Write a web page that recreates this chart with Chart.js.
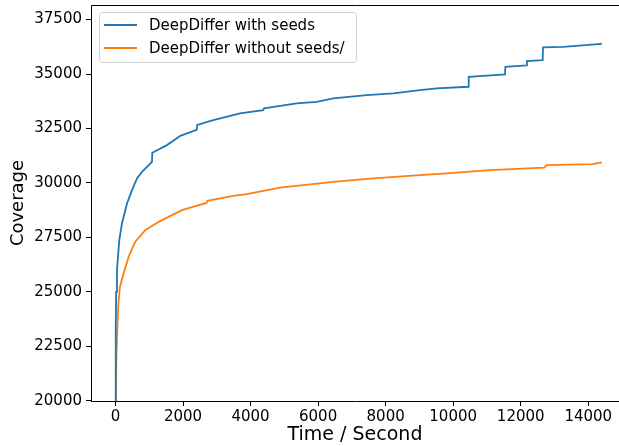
<!DOCTYPE html>
<html lang="en">
<head>
    <meta charset="UTF-8">
    <title>Coverage over time</title>
    <script src="https://cdn.jsdelivr.net/npm/chart.js@4.4.1/dist/chart.umd.min.js"></script>
    <style>
        html, body { margin: 0; padding: 0; background: #fff; overflow: hidden; }
        #chart { display: block; }
    </style>
</head>
<body>
<canvas id="chart" width="619" height="446"></canvas>
<script>
    // series labels
    var seriesNames = ["DeepDiffer with seeds", "DeepDiffer without seeds/"];

    // with seeds: time (s) / coverage
    var withSeedsTime = [0, 8, 20, 44, 113, 192, 341, 489, 637, 785, 1081, 1090, 1525, 1919, 2405, 2420,
        2896, 3687, 4377, 4400, 5366, 5958, 6450, 7438, 8226, 9017, 9511, 10448, 10460, 11534, 11545,
        12176, 12185, 12650, 12660, 13261, 14297, 14400];
    var withSeedsCov = [20000, 23500, 25000, 26000, 27370, 28140, 29058, 29669, 30207, 30510, 30970, 31383, 31736, 32163, 32440, 32660,
        32885, 33190, 33345, 33420, 33650, 33725, 33880, 34030, 34110, 34260, 34340, 34415, 34874, 34985, 35333,
        35397, 35595, 35640, 36224, 36250, 36376, 36390];

    // without seeds: time (s) / coverage
    var noSeedsTime = [15, 25, 53, 83, 133, 250, 400, 586, 882, 1279, 1673, 1969, 2464, 2700, 2720,
        3489, 3885, 4871, 6450, 7635, 9017, 9808, 11089, 12700, 12768, 14148, 14297, 14400];
    var noSeedsCov = [20000, 22000, 23240, 24400, 25230, 25900, 26650, 27300, 27832, 28213, 28521, 28751, 28980, 29080, 29180,
        29400, 29480, 29780, 30050, 30206, 30358, 30436, 30588, 30700, 30817, 30860, 30920, 30930];

    var xTicks = [0, 2000, 4000, 6000, 8000, 10000, 12000, 14000];
    var yTicks = [20000, 22500, 25000, 27500, 30000, 32500, 35000, 37500];

    function toPoints(xs, ys) {
        var pts = [];
        for (var i = 0; i < xs.length; i++) pts.push({x: xs[i], y: ys[i]});
        return pts;
    }

    var FONT = "'DejaVu Sans', sans-serif";
    var INK = "#000";

    // matplotlib-like frame (top/left/bottom spines) and legend box
    var mplDecor = {
        id: 'mplDecor',
        afterDraw: function (chart) {
            var ctx = chart.ctx, a = chart.chartArea;
            ctx.save();
            ctx.strokeStyle = INK;
            ctx.lineWidth = 1;
            ctx.beginPath();
            ctx.moveTo(a.left + 0.5, a.bottom + 0.5);
            ctx.lineTo(a.left + 0.5, a.top + 0.5);
            ctx.lineTo(a.right + 2, a.top + 0.5);
            ctx.moveTo(a.left, a.bottom + 0.5);
            ctx.lineTo(a.right + 2, a.bottom + 0.5);
            ctx.stroke();

            // legend
            var bx = 99.5, by = 12.5, bw = 257, bh = 50;
            ctx.beginPath();
            ctx.roundRect(bx, by, bw, bh, 3);
            ctx.fillStyle = "rgba(255,255,255,0.8)";
            ctx.fill();
            ctx.strokeStyle = "#d0d0d0";
            ctx.stroke();
            ctx.font = "15px " + FONT;
            ctx.textBaseline = "middle";
            chart.data.datasets.forEach(function (ds, i) {
                var yy = 25 + i * 23;
                ctx.strokeStyle = ds.borderColor;
                ctx.lineWidth = 1.8;
                ctx.beginPath();
                ctx.moveTo(104, yy);
                ctx.lineTo(137, yy);
                ctx.stroke();
                ctx.fillStyle = INK;
                ctx.fillText(ds.label, 149, yy + 1);
            });
            ctx.restore();
        }
    };

    new Chart(document.getElementById('chart'), {
        type: 'line',
        data: {
            datasets: [
                {
                    label: seriesNames[0],
                    data: toPoints(withSeedsTime, withSeedsCov),
                    borderColor: "#1f77b4",
                    borderWidth: 1.8,
                    pointRadius: 0,
                    tension: 0,
                    fill: false
                },
                {
                    label: seriesNames[1],
                    data: toPoints(noSeedsTime, noSeedsCov),
                    borderColor: "#ff7f0e",
                    borderWidth: 1.8,
                    pointRadius: 0,
                    tension: 0,
                    fill: false
                }
            ]
        },
        options: {
            responsive: false,
            animation: false,
            devicePixelRatio: 1,
            layout: {padding: {left: 0, right: 0, top: 5, bottom: 0}},
            plugins: {
                legend: {display: false},
                tooltip: {enabled: false}
            },
            scales: {
                x: {
                    type: 'linear',
                    min: -725,
                    max: 14910,
                    afterFit: function (s) {
                        s.height = 45;
                        s.paddingLeft = 0;
                        s.paddingRight = 0;
                    },
                    afterBuildTicks: function (s) { s.ticks = xTicks.map(function (v) { return {value: v}; }); },
                    grid: {drawOnChartArea: false, drawTicks: true, tickLength: 5, color: INK},
                    border: {display: false},
                    ticks: {
                        color: INK, padding: 2, maxRotation: 0,
                        font: {family: FONT, size: 15},
                        callback: function (v) { return String(v); }
                    },
                    title: {
                        display: true, text: "Time / Second", color: INK,
                        font: {family: FONT, size: 19}, padding: {top: 0, bottom: 0}
                    }
                },
                y: {
                    type: 'linear',
                    min: 19985,
                    max: 38170,
                    afterFit: function (s) {
                        s.width = 91;
                        s.paddingTop = 0;
                        s.paddingBottom = 0;
                    },
                    afterBuildTicks: function (s) { s.ticks = yTicks.map(function (v) { return {value: v}; }); },
                    grid: {drawOnChartArea: false, drawTicks: true, tickLength: 5, color: INK},
                    border: {display: false},
                    ticks: {
                        color: INK, padding: 4,
                        font: {family: FONT, size: 15},
                        callback: function (v) { return String(v); }
                    },
                    title: {
                        display: true, text: "Coverage", color: INK,
                        font: {family: FONT, size: 18}, padding: {top: 8, bottom: 0}
                    }
                }
            }
        },
        plugins: [mplDecor]
    });
</script>
</body>
</html>
